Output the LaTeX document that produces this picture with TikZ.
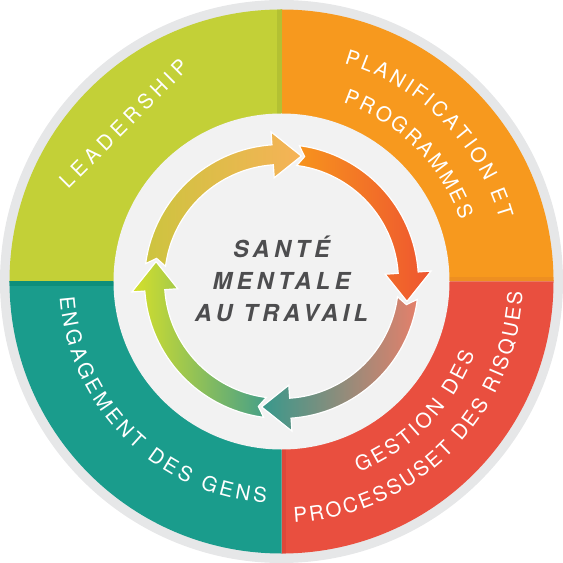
\documentclass[tikz,border=0pt]{standalone}
\usepackage{fontspec}
\setmainfont{TeX Gyre Heros}
\newfontfamily\centerfont[LetterSpace=19]{TeX Gyre Heros}
\usetikzlibrary{decorations.text}
\definecolor{ringgray}{HTML}{E6E7E8}
\definecolor{innergray}{HTML}{F2F2F2}
\definecolor{qgreen}{HTML}{C3D037}
\definecolor{qgreendk}{HTML}{B3C133}
\definecolor{qorange}{HTML}{F7991E}
\definecolor{qorangedk}{HTML}{EE8F21}
\definecolor{qred}{HTML}{E94F3F}
\definecolor{qreddk}{HTML}{DF4739}
\definecolor{qteal}{HTML}{1A9C8C}
\definecolor{qtealdk}{HTML}{0E8E7B}
\definecolor{txtgray}{HTML}{4D4D4F}
\definecolor{aTopL}{HTML}{CDC43F}
\definecolor{aTopR}{HTML}{F6B257}
\definecolor{aRgtL}{HTML}{F7941D}
\definecolor{aRgtR}{HTML}{EE5530}
\definecolor{aBotL}{HTML}{37998C}
\definecolor{aBotR}{HTML}{E4806B}
\definecolor{aLftL}{HTML}{D6E02A}
\definecolor{aLftR}{HTML}{46A088}
\newcommand\labfont{\color{white}\fontsize{20.5}{20.5}\selectfont}
% #1 tail angle, #2 tip angle, #3 left colour, #4 right colour
\newcommand\cycarrow[4]{%
  \shadedraw[left color=#3,right color=#4,draw=white,line width=1.2bp]
    ({#1}:137) arc[start angle={#1},end angle={#2+13},radius=137]
    -- ({#2+13}:150) -- ({#2}:127) -- ({#2+13}:104) -- ({#2+13}:117)
    arc[start angle={#2+13},end angle={#1},radius=117]
    -- ({#1-3}:127) -- cycle;}
\tikzset{
  labelpath/.style={font=\fontsize{20.5}{20.5}\selectfont,text=white,decorate,
    decoration={text along path,text align=fit to path,text={#1}}},
  centertext/.style={anchor=base,text=txtgray,inner sep=0pt,
    font=\centerfont\bfseries\itshape\fontsize{23.5}{28}\selectfont}
}
\begin{document}
\begin{tikzpicture}[x=1bp,y=1bp]
\useasboundingbox (-281.5,-281.5) rectangle (281.5,281.5);
\fill[ringgray] (0,0) circle (281.5);
% quadrants
\fill[qgreen]  (0,0) -- (90:272)  arc[start angle=90, end angle=180,radius=272] -- cycle;
\fill[qorange] (0,0) -- (0:272)   arc[start angle=0,  end angle=90, radius=272] -- cycle;
\fill[qred]    (0,0) -- (270:272) arc[start angle=270,end angle=360,radius=272] -- cycle;
\fill[qteal]   (0,0) -- (180:272) arc[start angle=180,end angle=270,radius=272] -- cycle;
\begin{scope}
  \clip (0,0) circle (272);
  \fill[qgreendk]  (-5,0) rectangle (0,272);
  \fill[qorangedk] (0,0) rectangle (272,4.5);
  \fill[qreddk]    (0,0) rectangle (4.5,-272);
  \fill[qtealdk]   (-272,-4.5) rectangle (0,0);
\end{scope}
% inner disk
\fill[innergray] (0,0) circle (168);
% cycle arrows
\cycarrow{172.5}{81}{aTopL}{aTopR}
\cycarrow{82.5}{-9}{aRgtL}{aRgtR}
\cycarrow{-7.5}{-99}{aBotL}{aBotR}
\cycarrow{262.5}{171}{aLftL}{aLftR}
% centre text
\node[centertext] (t1) at (0,23.5) {SANTÉ};
\node[centertext] (t2) at (0,-8.5) {MENTALE};
\node[centertext] (t3) at (0,-40) {AU TRAVAIL};
% outer labels
\coordinate (l1a) at (-213.4,91.9);
\coordinate (l1b) at (-91.9,213.4);
\path[labelpath={|\labfont|LEADERSHIP}] (l1a) -- (l1b);
\path[labelpath={|\labfont|PLANIFICATION ET}] (74:226.8) arc[start angle=74,end angle=16,radius=226.8];
\path[labelpath={|\labfont|PROGRAMMES}] (71:188.8) arc[start angle=71,end angle=19,radius=188.8];
\path[labelpath={|\labfont|ENGAGEMENT DES GENS}] (184:222.2) arc[start angle=184,end angle=266,radius=222.2];
\path[labelpath={|\labfont|GESTION DES}] (-68:206.2) arc[start angle=-68,end angle=-20.5,radius=206.2];
\path[labelpath={|\labfont|PROCESSUSET DES RISQUES}] (-87:241.2) arc[start angle=-87,end angle=-2.5,radius=241.2];
\end{tikzpicture}
\end{document}
